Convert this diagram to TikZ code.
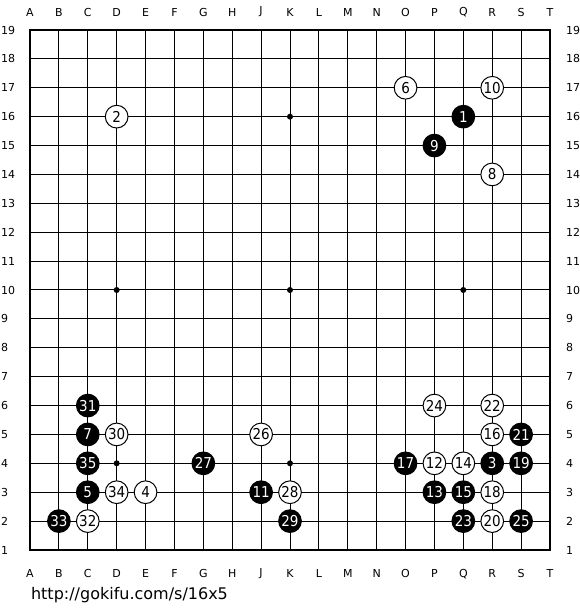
\documentclass[tikz,border=0pt]{standalone}
\usepackage{fontspec}
\setmainfont{DejaVu Sans}
\newfontfamily\stonefont{DejaVu Sans Condensed}
\usepackage{tikz}
\usetikzlibrary{positioning}

\begin{document}
\begin{tikzpicture}[
  x=28.889pt, y=28.889pt,
  font=\fontsize{11}{12}\selectfont,
  bstone/.style={circle, draw=black, fill=black, text=white, minimum size=22.7pt,
    inner sep=0pt, line width=1pt, font=\stonefont\fontsize{15}{15}\selectfont},
  wstone/.style={bstone, fill=white, text=black},
  hoshi/.style={circle, fill=black, minimum size=6pt, inner sep=0pt},
  lbl/.style={inner sep=0pt},
]
  \useasboundingbox (-1.0385,-2.077) rectangle (19.0385,19.0385);

  % Board lines
  \foreach \i in {1,...,17} {
    \draw[line width=1pt] (\i,0) -- (\i,18);
    \draw[line width=1pt] (0,\i) -- (18,\i);
  }
  \draw[line width=2pt] (0,0) rectangle (18,18);

  % Star points
  \foreach \hx in {3,9,15} \foreach \hy in {3,9,15}
    \node[hoshi] at (\hx,\hy) {};

  % Coordinates
  \foreach \c [count=\i from 0] in {A,B,C,D,E,F,G,H,J,K,L,M,N,O,P,Q,R,S,T} {
    \node[lbl] at (\i,18.623) {\c};
    \node[lbl] at (\i,-0.83) {\c};
  }
  \foreach \r in {1,...,19} {
    \node[lbl, anchor=west] at (-1.004,{\r-1}) {\r};
    \node[lbl, anchor=west] at (18.554,{\r-1}) {\r};
  }

  % Black stones
  \node[bstone] (b1)  at (15,15) {1};
  \node[bstone] (b3)  at (16,3)  {3};
  \node[bstone] (b5)  at (2,2)   {5};
  \node[bstone] (b7)  at (2,4)   {7};
  \node[bstone] (b9)  at (14,14) {9};
  \node[bstone] (b11) at (8,2)   {11};
  \node[bstone] (b13) at (14,2)  {13};
  \node[bstone] (b15) at (15,2)  {15};
  \node[bstone] (b17) at (13,3)  {17};
  \node[bstone] (b19) at (17,3)  {19};
  \node[bstone] (b21) at (17,4)  {21};
  \node[bstone] (b23) at (15,1)  {23};
  \node[bstone] (b25) at (17,1)  {25};
  \node[bstone] (b27) at (6,3)   {27};
  \node[bstone] (b29) at (9,1)   {29};
  \node[bstone] (b31) at (2,5)   {31};
  \node[bstone] (b33) at (1,1)   {33};
  \node[bstone] (b35) at (2,3)   {35};

  % White stones
  \node[wstone] (w2)  at (3,15)  {2};
  \node[wstone] (w4)  at (4,2)   {4};
  \node[wstone] (w6)  at (13,16) {6};
  \node[wstone] (w8)  at (16,13) {8};
  \node[wstone] (w10) at (16,16) {10};
  \node[wstone] (w12) at (14,3)  {12};
  \node[wstone] (w14) at (15,3)  {14};
  \node[wstone] (w16) at (16,4)  {16};
  \node[wstone] (w18) at (16,2)  {18};
  \node[wstone] (w20) at (16,1)  {20};
  \node[wstone] (w22) at (16,5)  {22};
  \node[wstone] (w24) at (14,5)  {24};
  \node[wstone] (w26) at (8,4)   {26};
  \node[wstone] (w28) at (9,2)   {28};
  \node[wstone] (w30) at (3,4)   {30};
  \node[wstone] (w32) at (2,1)   {32};
  \node[wstone] (w34) at (3,2)   {34};

  % Source
  \node[lbl, anchor=base west, font=\fontsize{16}{18}\selectfont] (src) at (0.03,-1.73) {http://gokifu.com/s/16x5};
\end{tikzpicture}
\end{document}
